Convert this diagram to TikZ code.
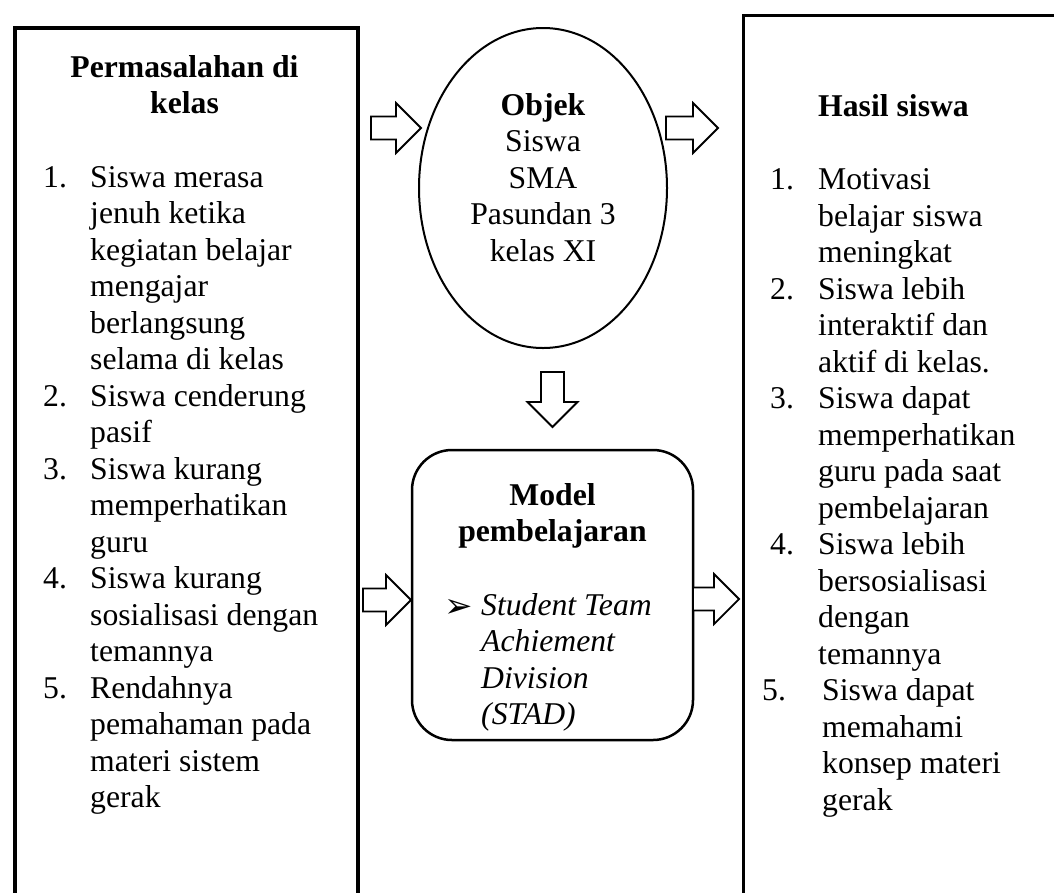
\documentclass[tikz,border=0pt]{standalone}
\usepackage{fontspec}
\setmainfont{Liberation Serif}
\newfontfamily\dejavu{DejaVu Sans}
\usetikzlibrary{shapes.geometric}
\newcommand\itm[2][47pt]{\makebox[#1][l]{#2}}
\tikzset{
  txt/.style={inner sep=0pt, font=\fontsize{31.7}{36.5}\selectfont},
  arrowline/.style={line width=1.8pt, fill=white, line join=miter},
  pics/barrow/.style={code={
    \draw[arrowline] (0,-11.5) -- ({#1-25},-11.5) -- ({#1-25},-25) -- (#1,0)
      -- ({#1-25},25) -- ({#1-25},11.5) -- (0,11.5) -- cycle;}},
}
\begin{document}
\begin{tikzpicture}[x=1pt,y=-1pt]
\useasboundingbox (0,0) rectangle (1054,892);
\clip (0,0) rectangle (1054,892);
\fill[white] (0,0) rectangle (1054,892);

% frames
\node[draw, line width=4.5pt, minimum width=343pt, minimum height=1000pt,
      anchor=north west, inner sep=0pt] (prob) at (12.5,25.5) {};
\node[draw, line width=3pt, minimum width=400pt, minimum height=1000pt,
      anchor=north west, inner sep=0pt] (hasil) at (741.5,13.5) {};
\node[draw, ellipse, line width=2pt, minimum width=248pt, minimum height=320pt,
      inner sep=0pt] (obj) at (543,188) {};
\node[draw, rounded corners=40pt, line width=2.5pt, minimum width=281pt,
      minimum height=290pt, inner sep=0pt] (model) at (552.5,595) {};

% left box text
\node[txt, anchor=base] (probtitle) at (184.5,77)
  {\begin{tabular}[t]{@{}c@{}}\bfseries Permasalahan di\\ \bfseries kelas\end{tabular}};
\node[txt, anchor=base west] (problist) at (43,187)
  {\begin{tabular}[t]{@{}l@{}}
   \itm{1.}Siswa merasa\\
   \itm{}jenuh ketika\\
   \itm{}kegiatan belajar\\
   \itm{}mengajar\\
   \itm{}berlangsung\\
   \itm{}selama di kelas\\
   \itm{2.}Siswa cenderung\\
   \itm{}pasif\\
   \itm{3.}Siswa kurang\\
   \itm{}memperhatikan\\
   \itm{}guru\\
   \itm{4.}Siswa kurang\\
   \itm{}sosialisasi dengan\\
   \itm{}temannya\\
   \itm{5.}Rendahnya\\
   \itm{}pemahaman pada\\
   \itm{}materi sistem\\
   \itm{}gerak
   \end{tabular}};

% ellipse text
\node[txt, anchor=base] (objtext) at (543,115)
  {\begin{tabular}[t]{@{}c@{}}\bfseries Objek\\ Siswa\\ SMA\\ Pasundan 3\\ kelas XI\end{tabular}};

% model text
\node[txt, anchor=base] (modeltitle) at (552.5,505)
  {\begin{tabular}[t]{@{}c@{}}\bfseries Model\\ \bfseries pembelajaran\end{tabular}};
\node[inner sep=0pt, anchor=base west, font=\dejavu\fontsize{34}{38}\selectfont] (bullet) at (444,617) {➢};
\node[txt, anchor=base west] (stad) at (481,615)
  {\itshape\begin{tabular}[t]{@{}l@{}}Student Team\\ Achiement\\ Division\\ (STAD)\end{tabular}};

% right box text
\node[txt, anchor=base west] (hasiltitle) at (818,116) {\bfseries Hasil siswa};
\node[txt, anchor=base west] (hasillist) at (770,189.5)
  {\begin{tabular}[t]{@{}l@{}}
   \itm[48pt]{1.}Motivasi\\
   \itm[48pt]{}belajar siswa\\
   \itm[48pt]{}meningkat\\
   \itm[48pt]{2.}Siswa lebih\\
   \itm[48pt]{}interaktif dan\\
   \itm[48pt]{}aktif di kelas.\\
   \itm[48pt]{3.}Siswa dapat\\
   \itm[48pt]{}memperhatikan\\
   \itm[48pt]{}guru pada saat\\
   \itm[48pt]{}pembelajaran\\
   \itm[48pt]{4.}Siswa lebih\\
   \itm[48pt]{}bersosialisasi\\
   \itm[48pt]{}dengan\\
   \itm[48pt]{}temannya\\
   \hspace*{-8pt}\itm[60pt]{5.}Siswa dapat\\
   \itm[52pt]{}memahami\\
   \itm[52pt]{}konsep materi\\
   \itm[52pt]{}gerak
   \end{tabular}};

% block arrows
\coordinate (a1) at (371,128);
\coordinate (a2) at (666,128);
\coordinate (a3) at (552.5,372);
\coordinate (a4) at (363,600);
\coordinate (a5) at (693,599);
\pic at (a1) {barrow=50};
\pic at (a2) {barrow=52};
\pic[rotate=-90] at (a3) {barrow=55};
\pic at (a4) {barrow=48};
\pic at (a5) {barrow=46};
\end{tikzpicture}
\end{document}
